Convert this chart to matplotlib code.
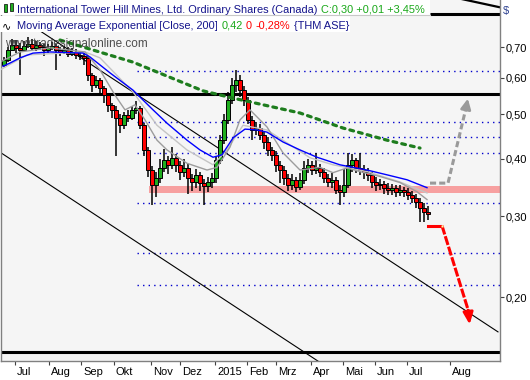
import matplotlib
matplotlib.use("Agg")
import matplotlib.pyplot as plt
import matplotlib.transforms as mtransforms
from matplotlib.patches import Rectangle
from matplotlib.lines import Line2D
from matplotlib.ticker import FixedLocator, FixedFormatter, NullLocator

# ── data: one candle per two trading days, x = bar index ──
first_open = 0.640
closes = [0.656, 0.690, 0.707, 0.697, 0.690, 0.704, 0.711, 0.697, 0.707, 0.700,
          0.690, 0.697, 0.704, 0.690, 0.683, 0.690, 0.676, 0.683, 0.673, 0.669,
          0.663, 0.608, 0.579, 0.593, 0.570, 0.550, 0.524, 0.511, 0.491, 0.473,
          0.498, 0.491, 0.511, 0.516, 0.473, 0.418, 0.378, 0.351, 0.363, 0.382,
          0.397, 0.388, 0.402, 0.388, 0.375, 0.382, 0.363, 0.356, 0.369, 0.355,
          0.349, 0.356, 0.363, 0.397, 0.439, 0.486, 0.537, 0.579, 0.593, 0.564,
          0.537, 0.486, 0.462, 0.466, 0.450, 0.435, 0.418, 0.408, 0.388, 0.378,
          0.363, 0.351, 0.360, 0.347, 0.360, 0.382, 0.388, 0.378, 0.382, 0.375,
          0.363, 0.356, 0.360, 0.342, 0.339, 0.351, 0.388, 0.397, 0.382, 0.378,
          0.375, 0.369, 0.356, 0.351, 0.353, 0.346, 0.342, 0.346, 0.339, 0.342,
          0.339, 0.334, 0.329, 0.322, 0.313, 0.307, 0.304]
highs = [0.665, 0.700, 0.730, 0.725, 0.715, 0.722, 0.735, 0.728, 0.720, 0.718,
         0.712, 0.710, 0.718, 0.712, 0.700, 0.705, 0.700, 0.695, 0.692, 0.685,
         0.680, 0.670, 0.615, 0.605, 0.600, 0.575, 0.555, 0.530, 0.520, 0.500,
         0.505, 0.510, 0.520, 0.535, 0.520, 0.478, 0.425, 0.385, 0.375, 0.400,
         0.420, 0.405, 0.425, 0.410, 0.395, 0.400, 0.390, 0.370, 0.380, 0.375,
         0.362, 0.365, 0.372, 0.405, 0.450, 0.500, 0.560, 0.600, 0.625, 0.610,
         0.575, 0.545, 0.495, 0.480, 0.475, 0.460, 0.445, 0.425, 0.415, 0.395,
         0.385, 0.370, 0.370, 0.365, 0.372, 0.395, 0.400, 0.395, 0.412, 0.390,
         0.382, 0.370, 0.372, 0.365, 0.350, 0.380, 0.412, 0.410, 0.402, 0.412,
         0.388, 0.382, 0.375, 0.365, 0.362, 0.358, 0.355, 0.352, 0.350, 0.350,
         0.348, 0.345, 0.340, 0.335, 0.328, 0.320, 0.315]
lows = [0.632, 0.650, 0.685, 0.680, 0.608, 0.685, 0.695, 0.690, 0.685, 0.690,
        0.670, 0.680, 0.690, 0.624, 0.670, 0.675, 0.665, 0.668, 0.660, 0.655,
        0.640, 0.590, 0.560, 0.570, 0.555, 0.530, 0.505, 0.490, 0.405, 0.455,
        0.465, 0.480, 0.485, 0.500, 0.465, 0.405, 0.365, 0.318, 0.330, 0.355,
        0.375, 0.370, 0.380, 0.375, 0.360, 0.365, 0.335, 0.340, 0.345, 0.340,
        0.318, 0.338, 0.345, 0.355, 0.390, 0.430, 0.475, 0.525, 0.560, 0.545,
        0.520, 0.475, 0.440, 0.450, 0.440, 0.420, 0.405, 0.395, 0.375, 0.355,
        0.350, 0.340, 0.342, 0.338, 0.342, 0.352, 0.372, 0.368, 0.370, 0.365,
        0.355, 0.348, 0.345, 0.335, 0.318, 0.330, 0.345, 0.375, 0.372, 0.368,
        0.362, 0.358, 0.345, 0.340, 0.342, 0.335, 0.334, 0.334, 0.330, 0.332,
        0.330, 0.325, 0.320, 0.312, 0.292, 0.292, 0.295]

# moving averages
ema_x = [-0.25, 1.5, 4, 7.25, 11.5, 19.75, 21.5, 26.5, 32.25, 37.25, 40.75, 45.75, 49,
         52.25, 54.5, 57.25, 60.25, 63.25, 65.75, 69.75, 74, 78.25, 84, 90.75, 95.75,
         100.75, 105.75]
ema_y = [0.636, 0.646, 0.663, 0.679, 0.683, 0.679, 0.666, 0.615, 0.564, 0.511, 0.478,
         0.439, 0.418, 0.403, 0.408, 0.444, 0.464, 0.462, 0.457, 0.435, 0.418, 0.403,
         0.388, 0.378, 0.369, 0.360, 0.346]
fast_x = [-1, 4, 11.5, 20.25, 24, 27.75, 30.25, 32.75, 35.25, 38.25, 40.75, 45.75, 50.75,
          53.25, 56.5, 59, 61.5, 65.75, 69.75, 74, 79, 82.25, 85.75, 89, 94, 99, 103.25,
          105.75]
fast_y = [0.649, 0.683, 0.697, 0.683, 0.624, 0.550, 0.511, 0.524, 0.486, 0.439, 0.418,
          0.391, 0.378, 0.383, 0.424, 0.486, 0.511, 0.469, 0.412, 0.378, 0.383, 0.373,
          0.382, 0.375, 0.366, 0.355, 0.339, 0.326]
slow_x = [-1, 5.75, 20.25, 24, 32.25, 38.25, 45.75, 52.25, 55.75, 59.75, 65.75, 70.75,
          76.5, 82.25, 90.75, 99, 105.75]
slow_y = [0.624, 0.673, 0.683, 0.663, 0.559, 0.473, 0.418, 0.388, 0.418, 0.473, 0.462,
          0.433, 0.402, 0.388, 0.375, 0.356, 0.337]

# drawings
green_x = [14, 32.25, 49.75, 57.25, 74, 84.75, 95.75, 104]
green_y = [0.725, 0.649, 0.562, 0.542, 0.503, 0.4665, 0.439, 0.422]
upper_x, upper_y = [9, 123.5], [0.759, 0.168]
lower_x, lower_y = [-0.75, 81.5], [0.412, 0.1395]
corner_x, corner_y = [114.5, 123.75], [0.890, 0.855]
levels = [0.621, 0.481, 0.446, 0.412, 0.320, 0.249, 0.2125]
thick_levels = [0.553, 0.152]
top_level = 0.826
band = (0.337, 0.349)
up_x, up_y = [106.5, 111, 116.1], [0.354, 0.354, 0.548]
down_x, down_y = [109.5, 116.5], [0.286, 0.172]
flat_x, flat_y = [106, 109], [0.286, 0.286]

month_pos = [2.7, 11.25, 19.25, 27.5, 36.75, 44, 52.75, 60.75, 68, 76.75, 84.75,
             92.75, 100.75, 111.5]
month_labels = ["Jul", "Aug", "Sep", "Okt", "Nov", "Dez", "2015", "Feb", "Mrz", "Apr",
                "Mai", "Jun", "Jul", "Aug"]
price_ticks = [0.20, 0.30, 0.40, 0.50, 0.60, 0.70]
price_labels = ["0,20", "0,30", "0,40", "0,50", "0,60", "0,70"]

W, H = 530, 380
FONT = "Liberation Sans"
plt.rcParams["font.family"] = [FONT, "DejaVu Sans"]

fig = plt.figure(figsize=(W / 100, H / 100), dpi=100)
ax = fig.add_axes([1 / W, 19 / H, 499 / W, 361 / H])
ax.set_facecolor("#f5f5f5")
ax.set_yscale("log")
ax.set_xlim(-0.75, 124)
ax.set_ylim(0.1452, 0.886)
XR = 124

# support band and levels
ax.fill_between([36.25, XR], band[0], band[1], color="#f7a0a0", lw=0, zorder=1)
ax.hlines(levels, 33.25, XR, colors="#0000cc", lw=1.0, linestyles=(0, (1, 3)), zorder=1)
ax.hlines(thick_levels, -0.75, XR, colors="black", lw=2.2, zorder=2)
ax.hlines(top_level, 106.5, XR, colors="black", lw=2.2, zorder=2)
ax.plot(corner_x, corner_y, color="black", lw=1.6, zorder=2)
ax.plot(upper_x, upper_y, color="black", lw=0.8, zorder=2)
ax.plot(lower_x, lower_y, color="black", lw=0.8, zorder=2)

# candles
xs = list(range(len(closes)))
opens = [first_open] + closes[:-1]
ax.vlines(xs, lows, highs, color="black", lw=1.1, zorder=3)
bodies_lo = [min(o, c) for o, c in zip(opens, closes)]
bodies_h = [max(abs(c - o), 0.002) for o, c in zip(opens, closes)]
body_col = ["#1fae1f" if c >= o else "#ff0000" for o, c in zip(opens, closes)]
ax.bar(xs, bodies_h, bottom=bodies_lo, width=0.85, color=body_col,
       edgecolor="black", lw=0.7, zorder=4)

# averages
ax.plot(slow_x, slow_y, color="#c4c4c4", lw=1.0, zorder=5)
ax.plot(fast_x, fast_y, color="#9c9c9c", lw=1.0, zorder=5)
ax.plot(ema_x, ema_y, color="#0000ff", lw=1.0, zorder=5)

# green dotted downtrend
ax.plot(green_x, green_y, color="#1e7d1e", lw=2.3, dashes=(1.2, 1.6),
        dash_capstyle="round", zorder=6)

# scenario arrows
ax.plot(up_x[:-1] + [115.6], up_y[:-1] + [0.52], color="#9a9a9a", lw=2.2,
        dashes=(2.0, 1.0), zorder=6)
ax.annotate("", xy=(up_x[-1], up_y[-1]), xytext=(115.5, 0.515),
            arrowprops=dict(arrowstyle="-|>,head_length=0.6,head_width=0.3",
                            color="#9a9a9a", lw=2.0), zorder=6)
ax.plot(flat_x, flat_y, color="#ff0000", lw=2.2, zorder=6)
ax.plot(down_x, [down_y[0], 0.182], color="#ff0000", lw=2.2, dashes=(3.0, 0.6), zorder=6)
ax.annotate("", xy=(down_x[1], down_y[1]), xytext=(115.9, 0.190),
            arrowprops=dict(arrowstyle="-|>,head_length=0.7,head_width=0.3",
                            color="#ff0000", lw=2.0), zorder=6)
ax.plot([down_x[0]], [down_y[0]], marker="s", ms=2, color="#ffffa0", mec="none", zorder=7)

# axes styling
ax.spines["top"].set_visible(False)
for side in ("left", "right", "bottom"):
    ax.spines[side].set_color("#808080")
    ax.spines[side].set_linewidth(1.0)

ax.yaxis.tick_right()
ax.yaxis.set_major_locator(FixedLocator(price_ticks))
ax.yaxis.set_major_formatter(FixedFormatter(price_labels))
ax.yaxis.set_minor_locator(NullLocator())
ax.tick_params(axis="y", length=3, width=0.8, color="#404040", pad=1.2,
               labelsize=8, labelcolor="black")

ax.set_xticks(month_pos)
ax.set_xticklabels(month_labels)
ax.tick_params(axis="x", length=3, width=0.8, color="#404040", pad=1.5, labelsize=8)
shift = mtransforms.ScaledTranslation(2 / 100, 0, fig.dpi_scale_trans)
for lbl in ax.get_xticklabels():
    lbl.set_horizontalalignment("left")
    lbl.set_transform(lbl.get_transform() + shift)


def fx(px):
    return px / W


def fy(py):
    return 1 - py / H


# legend header with white background
fig.add_artist(Rectangle((fx(0), fy(15)), fx(430), 15 / H, transform=fig.transFigure,
                         facecolor="white", edgecolor="none", zorder=8))
fig.add_artist(Rectangle((fx(0), fy(32)), fx(350), 16 / H, transform=fig.transFigure,
                         facecolor="white", edgecolor="none", zorder=8))
fig.add_artist(Line2D([fx(15), fx(430)], [fy(15), fy(15)], transform=fig.transFigure,
                      color="#c8c8c8", lw=0.8, zorder=9))
# candle icon
fig.add_artist(Rectangle((fx(4), fy(12)), 3 / W, 8 / H, transform=fig.transFigure,
                         facecolor="#1fae1f", edgecolor="black", lw=0.5, zorder=9))
fig.add_artist(Rectangle((fx(10), fy(11)), 3 / W, 8 / H, transform=fig.transFigure,
                         facecolor="#1fae1f", edgecolor="black", lw=0.5, zorder=9))
fig.text(fx(2), fy(29), "\u223f", color="black", fontsize=8, va="baseline", zorder=10)

# header pieces laid out one after another, measured with the renderer
navy, green, red = "#14148c", "#18a818", "#ff0000"
header_lines = [
    (13, [("International Tower Hill Mines, Ltd. Ordinary Shares (Canada)", navy),
          ("C:0,30 +0,01 +3,45%", green)]),
    (29, [("Moving Average Exponential [Close, 200]", navy), ("0,42", green),
          ("0", red), ("-0,28%", red), ("{THM ASE}", navy)]),
]
renderer = fig.canvas.get_renderer()
for py, pieces in header_lines:
    x = 17
    for txt, col in pieces:
        t = fig.text(fx(x), fy(py), txt, color=col, fontsize=7.9, va="baseline",
                     ha="left", zorder=10)
        x = t.get_window_extent(renderer).x1 + 3.5

fig.text(fx(5), fy(47), "www.tradesignalonline.com", color="#303030", fontsize=8.5,
         va="baseline", ha="left", alpha=0.85, zorder=10)
fig.text(fx(503), fy(14), "$", color="#2a3f8f", fontsize=8, va="baseline", ha="left",
         zorder=10)

fig.savefig("out.png", dpi=100)
